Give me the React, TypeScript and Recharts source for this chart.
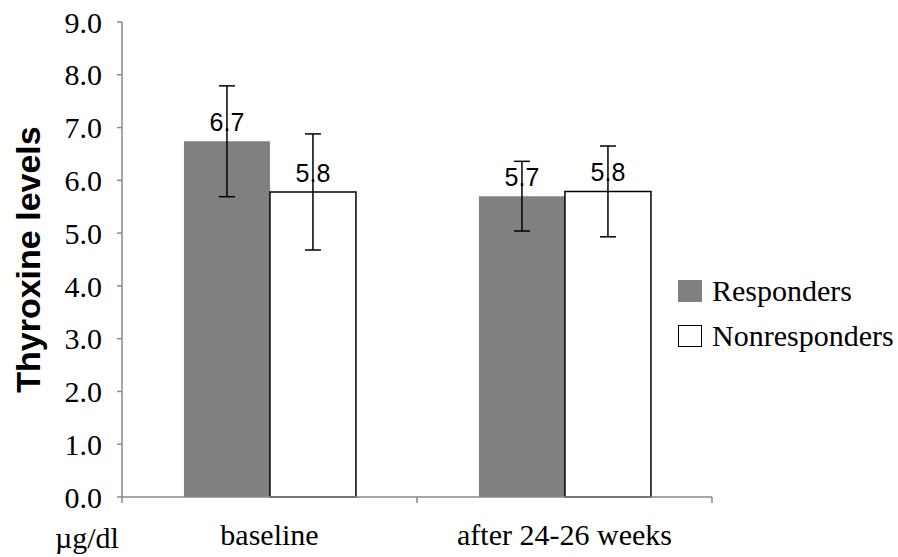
import React from "react";
import { Bar, BarChart, ErrorBar, Label, LabelList, XAxis, YAxis } from "recharts";

const categories = ["baseline", "after 24-26 weeks"];
const responders = [6.74, 5.7];
const respondersErr = [1.05, 0.66];
const nonresponders = [5.78, 5.79];
const nonrespondersErr = [1.1, 0.86];
const yTicks = [0, 1, 2, 3, 4, 5, 6, 7, 8, 9];

const series = [
  { key: "responders", name: "Responders", fill: "#808080", stroke: "none" },
  { key: "nonresponders", name: "Nonresponders", fill: "#ffffff", stroke: "#000000" },
];

const rows = categories.map((c, i) => ({
  name: c,
  responders: responders[i],
  respondersErr: respondersErr[i],
  nonresponders: nonresponders[i],
  nonrespondersErr: nonrespondersErr[i],
}));

const serif = "'Liberation Serif', 'Times New Roman', serif";
const sans = "'Liberation Sans', Arial, sans-serif";
const axisGray = "#898989";

// category tick: label centred, tick marks at the band edges (Excel style)
const CategoryTick = (props: any) => {
  const { x, y, payload } = props;
  const half = payload.offset || 0;
  return (
    <g>
      {payload.index === 0 && (
        <line x1={x - half} y1={y} x2={x - half} y2={y + 6} stroke={axisGray} strokeWidth={1.5} />
      )}
      <line x1={x + half} y1={y} x2={x + half} y2={y + 6} stroke={axisGray} strokeWidth={1.5} />
      <text x={x} y={y + 48} textAnchor="middle" fill="#000" fontFamily={serif} fontSize={30}>
        {payload.value}
      </text>
    </g>
  );
};

export default function App() {
  return (
    <div style={{ position: "absolute", left: 0, top: 0, width: 898, height: 557, background: "#fff" }}>
      <BarChart
        width={898}
        height={557}
        data={rows}
        margin={{ top: 22, right: 186, left: 0, bottom: 0 }}
        barGap={0}
        barCategoryGap="21%"
      >
        <XAxis
          dataKey="name"
          height={60}
          stroke={axisGray}
          strokeWidth={1.5}
          tickLine={false}
          tickSize={0}
          tickMargin={0}
          tick={<CategoryTick />}
          interval={0}
        />
        <YAxis
          width={122}
          domain={[0, 9]}
          ticks={yTicks}
          stroke={axisGray}
          strokeWidth={1.5}
          tickSize={5}
          tickMargin={15}
          tick={{ fill: "#000", fontFamily: serif, fontSize: 30 }}
          tickFormatter={(v: number) => v.toFixed(1)}
        >
          <Label
            content={(p: any) => {
              const vb = p.viewBox || {};
              const cx = (vb.x || 0) + 28;
              const cy = (vb.y || 0) + (vb.height || 0) / 2;
              return (
                <text
                  x={cx}
                  y={cy}
                  transform={`rotate(-90 ${cx} ${cy})`}
                  textAnchor="middle"
                  dominantBaseline="central"
                  fontFamily={sans}
                  fontWeight="bold"
                  fontSize={34}
                  fill="#000"
                >
                  Thyroxine levels
                </text>
              );
            }}
          />
        </YAxis>
        {series.map((s) => (
          <Bar
            key={s.key}
            dataKey={s.key}
            name={s.name}
            fill={s.fill}
            stroke={s.stroke}
            strokeWidth={1.5}
            isAnimationActive={false}
          >
            <ErrorBar
              dataKey={s.key + "Err"}
              width={8}
              stroke="#000"
              strokeWidth={1.5}
              isAnimationActive={false}
            />
            <LabelList
              dataKey={s.key}
              position="top"
              offset={10}
              fill="#000"
              fontFamily={sans}
              fontSize={25}
              formatter={(v: any) => Number(v).toFixed(1)}
            />
          </Bar>
        ))}
      </BarChart>
      <div
        style={{
          position: "absolute",
          left: 55,
          top: 522,
          fontFamily: serif,
          fontSize: 30,
          lineHeight: "32px",
          color: "#000",
        }}
      >
        µg/dl
      </div>
      <div style={{ position: "absolute", left: 678, top: 275 }}>
        {series.map((s) => (
          <div key={s.key} style={{ display: "flex", alignItems: "center", height: 32, marginBottom: 13 }}>
            <div
              style={{
                width: 24,
                height: 22,
                boxSizing: "border-box",
                background: s.fill,
                border: s.stroke === "none" ? "none" : `1.5px solid ${s.stroke}`,
                marginRight: 10,
              }}
            />
            <span style={{ fontFamily: serif, fontSize: 30, color: "#000", lineHeight: "32px" }}>{s.name}</span>
          </div>
        ))}
      </div>
    </div>
  );
}
